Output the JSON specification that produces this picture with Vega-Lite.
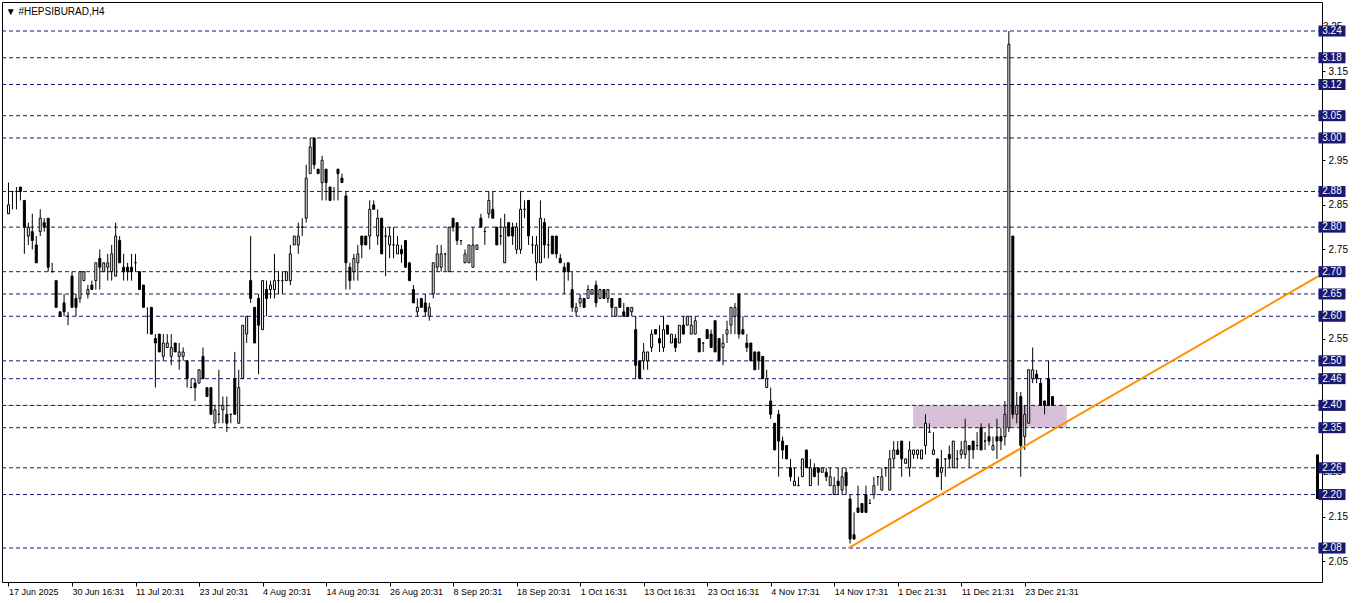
{
"$schema":"https://vega.github.io/schema/vega-lite/v6.json",
"width":1320,"height":580,
"autosize":{"type":"none"},
"padding":{"left":2,"top":2,"right":40,"bottom":21},
"background":"white",
"config":{"view":{"stroke":"black","strokeWidth":1},"font":"Liberation Sans"},
"datasets":{
"candles":[
{"i":0,"o":2.83,"h":2.90,"l":2.83,"c":2.85},{"i":1,"o":2.88,"h":2.88,"l":2.84,"c":2.88},{"i":2,"o":2.88,"h":2.89,"l":2.84,"c":2.88},{"i":3,"o":2.89,"h":2.89,"l":2.86,"c":2.88},{"i":4,"o":2.86,"h":2.86,"l":2.74,"c":2.80},{"i":5,"o":2.78,"h":2.81,"l":2.76,"c":2.80},{"i":6,"o":2.79,"h":2.83,"l":2.75,"c":2.77},{"i":7,"o":2.76,"h":2.78,"l":2.72,"c":2.72},{"i":8,"o":2.79,"h":2.84,"l":2.78,"c":2.82},{"i":9,"o":2.81,"h":2.82,"l":2.79,"c":2.80},
{"i":10,"o":2.82,"h":2.82,"l":2.70,"c":2.71},{"i":11,"o":2.70,"h":2.72,"l":2.70,"c":2.70},{"i":12,"o":2.68,"h":2.68,"l":2.62,"c":2.62},{"i":13,"o":2.61,"h":2.61,"l":2.60,"c":2.60},{"i":14,"o":2.63,"h":2.65,"l":2.60,"c":2.61},{"i":15,"o":2.60,"h":2.61,"l":2.58,"c":2.60},{"i":16,"o":2.69,"h":2.70,"l":2.62,"c":2.62},{"i":17,"o":2.64,"h":2.65,"l":2.60,"c":2.62},{"i":18,"o":2.64,"h":2.70,"l":2.63,"c":2.70},{"i":19,"o":2.68,"h":2.70,"l":2.68,"c":2.70},
{"i":20,"o":2.65,"h":2.67,"l":2.64,"c":2.66},{"i":21,"o":2.67,"h":2.68,"l":2.66,"c":2.66},{"i":22,"o":2.68,"h":2.72,"l":2.66,"c":2.72},{"i":23,"o":2.73,"h":2.75,"l":2.66,"c":2.71},{"i":24,"o":2.70,"h":2.72,"l":2.70,"c":2.72},{"i":25,"o":2.71,"h":2.74,"l":2.68,"c":2.72},{"i":26,"o":2.70,"h":2.76,"l":2.68,"c":2.74},{"i":27,"o":2.69,"h":2.81,"l":2.69,"c":2.78},{"i":28,"o":2.77,"h":2.78,"l":2.72,"c":2.72},{"i":29,"o":2.71,"h":2.74,"l":2.68,"c":2.70},
{"i":30,"o":2.71,"h":2.72,"l":2.68,"c":2.70},{"i":31,"o":2.71,"h":2.74,"l":2.68,"c":2.70},{"i":32,"o":2.72,"h":2.74,"l":2.70,"c":2.72},{"i":33,"o":2.70,"h":2.70,"l":2.66,"c":2.66},{"i":34,"o":2.67,"h":2.67,"l":2.62,"c":2.62},{"i":35,"o":2.60,"h":2.62,"l":2.56,"c":2.60},{"i":36,"o":2.62,"h":2.62,"l":2.56,"c":2.56},{"i":37,"o":2.55,"h":2.56,"l":2.44,"c":2.54},{"i":38,"o":2.56,"h":2.56,"l":2.52,"c":2.52},{"i":39,"o":2.51,"h":2.56,"l":2.50,"c":2.54},
{"i":40,"o":2.53,"h":2.56,"l":2.53,"c":2.54},{"i":41,"o":2.51,"h":2.56,"l":2.49,"c":2.53},{"i":42,"o":2.54,"h":2.54,"l":2.52,"c":2.52},{"i":43,"o":2.51,"h":2.54,"l":2.48,"c":2.52},{"i":44,"o":2.51,"h":2.53,"l":2.50,"c":2.52},{"i":45,"o":2.50,"h":2.50,"l":2.44,"c":2.46},{"i":46,"o":2.44,"h":2.46,"l":2.44,"c":2.44},{"i":47,"o":2.45,"h":2.46,"l":2.41,"c":2.44},{"i":48,"o":2.45,"h":2.48,"l":2.45,"c":2.48},{"i":49,"o":2.51,"h":2.53,"l":2.46,"c":2.46},
{"i":50,"o":2.44,"h":2.44,"l":2.42,"c":2.42},{"i":51,"o":2.44,"h":2.44,"l":2.38,"c":2.38},{"i":52,"o":2.36,"h":2.40,"l":2.35,"c":2.39},{"i":53,"o":2.38,"h":2.48,"l":2.36,"c":2.38},{"i":54,"o":2.39,"h":2.42,"l":2.36,"c":2.40},{"i":55,"o":2.38,"h":2.42,"l":2.34,"c":2.36},{"i":56,"o":2.38,"h":2.38,"l":2.36,"c":2.38},{"i":57,"o":2.46,"h":2.52,"l":2.38,"c":2.38},{"i":58,"o":2.36,"h":2.48,"l":2.36,"c":2.44},{"i":59,"o":2.46,"h":2.58,"l":2.46,"c":2.58},
{"i":60,"o":2.56,"h":2.60,"l":2.54,"c":2.60},{"i":61,"o":2.68,"h":2.78,"l":2.63,"c":2.64},{"i":62,"o":2.62,"h":2.62,"l":2.54,"c":2.54},{"i":63,"o":2.64,"h":2.65,"l":2.47,"c":2.58},{"i":64,"o":2.57,"h":2.68,"l":2.57,"c":2.68},{"i":65,"o":2.66,"h":2.68,"l":2.60,"c":2.64},{"i":66,"o":2.66,"h":2.68,"l":2.64,"c":2.67},{"i":67,"o":2.66,"h":2.74,"l":2.64,"c":2.68},{"i":68,"o":2.68,"h":2.70,"l":2.65,"c":2.68},{"i":69,"o":2.68,"h":2.70,"l":2.65,"c":2.68},
{"i":70,"o":2.68,"h":2.70,"l":2.68,"c":2.70},{"i":71,"o":2.68,"h":2.76,"l":2.67,"c":2.74},{"i":72,"o":2.76,"h":2.78,"l":2.76,"c":2.78},{"i":73,"o":2.76,"h":2.81,"l":2.74,"c":2.78},{"i":74,"o":2.80,"h":2.82,"l":2.78,"c":2.80},{"i":75,"o":2.82,"h":2.94,"l":2.81,"c":2.91},{"i":76,"o":2.92,"h":3.00,"l":2.92,"c":2.98},{"i":77,"o":3.00,"h":3.00,"l":2.93,"c":2.94},{"i":78,"o":2.93,"h":2.93,"l":2.92,"c":2.92},{"i":79,"o":2.90,"h":2.96,"l":2.86,"c":2.95},
{"i":80,"o":2.93,"h":2.93,"l":2.86,"c":2.90},{"i":81,"o":2.89,"h":2.89,"l":2.86,"c":2.86},{"i":82,"o":2.88,"h":2.89,"l":2.86,"c":2.88},{"i":83,"o":2.93,"h":2.93,"l":2.86,"c":2.92},{"i":84,"o":2.91,"h":2.92,"l":2.90,"c":2.90},{"i":85,"o":2.87,"h":2.88,"l":2.66,"c":2.72},{"i":86,"o":2.71,"h":2.72,"l":2.66,"c":2.68},{"i":87,"o":2.70,"h":2.74,"l":2.68,"c":2.73},{"i":88,"o":2.72,"h":2.76,"l":2.68,"c":2.74},{"i":89,"o":2.78,"h":2.78,"l":2.73,"c":2.76},
{"i":90,"o":2.78,"h":2.78,"l":2.76,"c":2.76},{"i":91,"o":2.78,"h":2.86,"l":2.75,"c":2.84},{"i":92,"o":2.85,"h":2.86,"l":2.84,"c":2.84},{"i":93,"o":2.78,"h":2.84,"l":2.76,"c":2.82},{"i":94,"o":2.82,"h":2.82,"l":2.74,"c":2.74},{"i":95,"o":2.78,"h":2.80,"l":2.69,"c":2.78},{"i":96,"o":2.76,"h":2.80,"l":2.73,"c":2.78},{"i":97,"o":2.76,"h":2.80,"l":2.73,"c":2.76},{"i":98,"o":2.74,"h":2.78,"l":2.74,"c":2.76},{"i":99,"o":2.75,"h":2.76,"l":2.72,"c":2.74},
{"i":100,"o":2.77,"h":2.77,"l":2.71,"c":2.71},{"i":101,"o":2.72,"h":2.72,"l":2.68,"c":2.68},{"i":102,"o":2.66,"h":2.67,"l":2.63,"c":2.63},{"i":103,"o":2.61,"h":2.64,"l":2.60,"c":2.62},{"i":104,"o":2.64,"h":2.64,"l":2.62,"c":2.62},{"i":105,"o":2.63,"h":2.65,"l":2.60,"c":2.61},{"i":106,"o":2.60,"h":2.63,"l":2.59,"c":2.62},{"i":107,"o":2.65,"h":2.72,"l":2.64,"c":2.72},{"i":108,"o":2.71,"h":2.76,"l":2.70,"c":2.74},{"i":109,"o":2.71,"h":2.76,"l":2.70,"c":2.74},
{"i":110,"o":2.74,"h":2.74,"l":2.70,"c":2.74},{"i":111,"o":2.70,"h":2.80,"l":2.70,"c":2.80},{"i":112,"o":2.82,"h":2.82,"l":2.79,"c":2.80},{"i":113,"o":2.81,"h":2.81,"l":2.76,"c":2.77},{"i":114,"o":2.77,"h":2.77,"l":2.76,"c":2.77},{"i":115,"o":2.72,"h":2.75,"l":2.72,"c":2.74},{"i":116,"o":2.72,"h":2.76,"l":2.72,"c":2.76},{"i":117,"o":2.71,"h":2.80,"l":2.71,"c":2.76},{"i":118,"o":2.75,"h":2.76,"l":2.75,"c":2.76},{"i":119,"o":2.82,"h":2.83,"l":2.80,"c":2.80},
{"i":120,"o":2.79,"h":2.80,"l":2.76,"c":2.79},{"i":121,"o":2.83,"h":2.88,"l":2.82,"c":2.86},{"i":122,"o":2.84,"h":2.88,"l":2.82,"c":2.82},{"i":123,"o":2.80,"h":2.80,"l":2.76,"c":2.76},{"i":124,"o":2.78,"h":2.82,"l":2.76,"c":2.78},{"i":125,"o":2.72,"h":2.83,"l":2.72,"c":2.80},{"i":126,"o":2.81,"h":2.81,"l":2.78,"c":2.78},{"i":127,"o":2.80,"h":2.81,"l":2.76,"c":2.78},{"i":128,"o":2.75,"h":2.81,"l":2.74,"c":2.80},{"i":129,"o":2.75,"h":2.88,"l":2.74,"c":2.84},
{"i":130,"o":2.84,"h":2.86,"l":2.82,"c":2.84},{"i":131,"o":2.86,"h":2.86,"l":2.76,"c":2.78},{"i":132,"o":2.76,"h":2.78,"l":2.74,"c":2.76},{"i":133,"o":2.72,"h":2.78,"l":2.68,"c":2.76},{"i":134,"o":2.72,"h":2.86,"l":2.72,"c":2.82},{"i":135,"o":2.81,"h":2.82,"l":2.73,"c":2.76},{"i":136,"o":2.76,"h":2.80,"l":2.73,"c":2.76},{"i":137,"o":2.78,"h":2.78,"l":2.74,"c":2.74},{"i":138,"o":2.78,"h":2.78,"l":2.73,"c":2.74},{"i":139,"o":2.73,"h":2.74,"l":2.72,"c":2.72},
{"i":140,"o":2.71,"h":2.72,"l":2.65,"c":2.70},{"i":141,"o":2.72,"h":2.72,"l":2.68,"c":2.70},{"i":142,"o":2.66,"h":2.70,"l":2.61,"c":2.62},{"i":143,"o":2.61,"h":2.63,"l":2.60,"c":2.62},{"i":144,"o":2.63,"h":2.65,"l":2.62,"c":2.64},{"i":145,"o":2.64,"h":2.64,"l":2.62,"c":2.62},{"i":146,"o":2.64,"h":2.67,"l":2.64,"c":2.66},{"i":147,"o":2.65,"h":2.66,"l":2.65,"c":2.66},{"i":148,"o":2.67,"h":2.68,"l":2.62,"c":2.63},{"i":149,"o":2.64,"h":2.66,"l":2.64,"c":2.66},
{"i":150,"o":2.66,"h":2.66,"l":2.64,"c":2.64},{"i":151,"o":2.64,"h":2.66,"l":2.63,"c":2.66},{"i":152,"o":2.64,"h":2.64,"l":2.60,"c":2.62},{"i":153,"o":2.60,"h":2.62,"l":2.60,"c":2.62},{"i":154,"o":2.64,"h":2.64,"l":2.62,"c":2.62},{"i":155,"o":2.61,"h":2.63,"l":2.60,"c":2.60},{"i":156,"o":2.62,"h":2.62,"l":2.60,"c":2.60},{"i":157,"o":2.61,"h":2.62,"l":2.60,"c":2.62},{"i":158,"o":2.57,"h":2.60,"l":2.46,"c":2.49},{"i":159,"o":2.50,"h":2.50,"l":2.46,"c":2.46},
{"i":160,"o":2.50,"h":2.54,"l":2.48,"c":2.52},{"i":161,"o":2.50,"h":2.52,"l":2.48,"c":2.52},{"i":162,"o":2.53,"h":2.57,"l":2.52,"c":2.56},{"i":163,"o":2.57,"h":2.57,"l":2.56,"c":2.56},{"i":164,"o":2.55,"h":2.58,"l":2.52,"c":2.54},{"i":165,"o":2.53,"h":2.60,"l":2.52,"c":2.57},{"i":166,"o":2.58,"h":2.58,"l":2.56,"c":2.56},{"i":167,"o":2.54,"h":2.56,"l":2.54,"c":2.56},{"i":168,"o":2.55,"h":2.56,"l":2.52,"c":2.53},{"i":169,"o":2.54,"h":2.58,"l":2.54,"c":2.58},
{"i":170,"o":2.58,"h":2.60,"l":2.56,"c":2.56},{"i":171,"o":2.58,"h":2.60,"l":2.58,"c":2.60},{"i":172,"o":2.56,"h":2.60,"l":2.56,"c":2.58},{"i":173,"o":2.56,"h":2.60,"l":2.56,"c":2.59},{"i":174,"o":2.55,"h":2.55,"l":2.52,"c":2.52},{"i":175,"o":2.54,"h":2.54,"l":2.52,"c":2.54},{"i":176,"o":2.57,"h":2.57,"l":2.55,"c":2.55},{"i":177,"o":2.56,"h":2.57,"l":2.53,"c":2.53},{"i":178,"o":2.59,"h":2.59,"l":2.52,"c":2.52},{"i":179,"o":2.55,"h":2.55,"l":2.50,"c":2.50},
{"i":180,"o":2.53,"h":2.56,"l":2.49,"c":2.54},{"i":181,"o":2.56,"h":2.59,"l":2.54,"c":2.57},{"i":182,"o":2.58,"h":2.62,"l":2.56,"c":2.62},{"i":183,"o":2.60,"h":2.63,"l":2.56,"c":2.62},{"i":184,"o":2.65,"h":2.65,"l":2.55,"c":2.56},{"i":185,"o":2.57,"h":2.60,"l":2.56,"c":2.56},{"i":186,"o":2.54,"h":2.56,"l":2.52,"c":2.53},{"i":187,"o":2.54,"h":2.54,"l":2.50,"c":2.50},{"i":188,"o":2.52,"h":2.52,"l":2.48,"c":2.48},{"i":189,"o":2.52,"h":2.52,"l":2.48,"c":2.50},
{"i":190,"o":2.51,"h":2.51,"l":2.46,"c":2.46},{"i":191,"o":2.44,"h":2.48,"l":2.44,"c":2.46},{"i":192,"o":2.41,"h":2.44,"l":2.37,"c":2.38},{"i":193,"o":2.36,"h":2.36,"l":2.30,"c":2.30},{"i":194,"o":2.38,"h":2.39,"l":2.24,"c":2.32},{"i":195,"o":2.32,"h":2.33,"l":2.28,"c":2.30},{"i":196,"o":2.31,"h":2.31,"l":2.28,"c":2.28},{"i":197,"o":2.26,"h":2.28,"l":2.23,"c":2.24},{"i":198,"o":2.22,"h":2.26,"l":2.22,"c":2.23},{"i":199,"o":2.22,"h":2.24,"l":2.22,"c":2.22},
{"i":200,"o":2.24,"h":2.28,"l":2.24,"c":2.28},{"i":201,"o":2.30,"h":2.30,"l":2.26,"c":2.26},{"i":202,"o":2.22,"h":2.28,"l":2.22,"c":2.26},{"i":203,"o":2.26,"h":2.27,"l":2.24,"c":2.24},{"i":204,"o":2.26,"h":2.26,"l":2.22,"c":2.25},{"i":205,"o":2.25,"h":2.26,"l":2.25,"c":2.26},{"i":206,"o":2.25,"h":2.26,"l":2.23,"c":2.24},{"i":207,"o":2.22,"h":2.26,"l":2.22,"c":2.24},{"i":208,"o":2.20,"h":2.24,"l":2.20,"c":2.22},{"i":209,"o":2.23,"h":2.26,"l":2.20,"c":2.22},
{"i":210,"o":2.21,"h":2.26,"l":2.20,"c":2.24},{"i":211,"o":2.25,"h":2.26,"l":2.20,"c":2.22},{"i":212,"o":2.19,"h":2.20,"l":2.09,"c":2.10},{"i":213,"o":2.11,"h":2.16,"l":2.10,"c":2.10},{"i":214,"o":2.17,"h":2.22,"l":2.16,"c":2.16},{"i":215,"o":2.18,"h":2.18,"l":2.16,"c":2.16},{"i":216,"o":2.20,"h":2.22,"l":2.16,"c":2.16},{"i":217,"o":2.18,"h":2.19,"l":2.18,"c":2.18},{"i":218,"o":2.20,"h":2.24,"l":2.19,"c":2.22},{"i":219,"o":2.24,"h":2.24,"l":2.22,"c":2.24},
{"i":220,"o":2.21,"h":2.26,"l":2.21,"c":2.24},{"i":221,"o":2.26,"h":2.26,"l":2.24,"c":2.26},{"i":222,"o":2.21,"h":2.30,"l":2.21,"c":2.28},{"i":223,"o":2.28,"h":2.32,"l":2.26,"c":2.30},{"i":224,"o":2.30,"h":2.32,"l":2.29,"c":2.29},{"i":225,"o":2.32,"h":2.32,"l":2.24,"c":2.28},{"i":226,"o":2.27,"h":2.28,"l":2.27,"c":2.28},{"i":227,"o":2.26,"h":2.32,"l":2.24,"c":2.30},{"i":228,"o":2.29,"h":2.30,"l":2.28,"c":2.30},{"i":229,"o":2.29,"h":2.30,"l":2.28,"c":2.30},
{"i":230,"o":2.28,"h":2.30,"l":2.28,"c":2.30},{"i":231,"o":2.31,"h":2.38,"l":2.29,"c":2.36},{"i":232,"o":2.34,"h":2.36,"l":2.34,"c":2.34},{"i":233,"o":2.29,"h":2.34,"l":2.29,"c":2.30},{"i":234,"o":2.28,"h":2.28,"l":2.24,"c":2.24},{"i":235,"o":2.25,"h":2.30,"l":2.21,"c":2.26},{"i":236,"o":2.28,"h":2.28,"l":2.24,"c":2.28},{"i":237,"o":2.29,"h":2.31,"l":2.26,"c":2.28},{"i":238,"o":2.26,"h":2.32,"l":2.26,"c":2.32},{"i":239,"o":2.28,"h":2.30,"l":2.26,"c":2.28},
{"i":240,"o":2.29,"h":2.32,"l":2.28,"c":2.30},{"i":241,"o":2.29,"h":2.37,"l":2.28,"c":2.32},{"i":242,"o":2.31,"h":2.31,"l":2.26,"c":2.30},{"i":243,"o":2.32,"h":2.32,"l":2.28,"c":2.30},{"i":244,"o":2.31,"h":2.34,"l":2.30,"c":2.31},{"i":245,"o":2.35,"h":2.36,"l":2.30,"c":2.30},{"i":246,"o":2.32,"h":2.34,"l":2.30,"c":2.32},{"i":247,"o":2.33,"h":2.36,"l":2.31,"c":2.32},{"i":248,"o":2.30,"h":2.33,"l":2.30,"c":2.31},{"i":249,"o":2.33,"h":2.37,"l":2.28,"c":2.32},
{"i":250,"o":2.33,"h":2.35,"l":2.30,"c":2.32},{"i":251,"o":2.33,"h":2.41,"l":2.31,"c":2.38},{"i":252,"o":2.35,"h":3.24,"l":2.34,"c":3.21},{"i":253,"o":2.78,"h":2.78,"l":2.37,"c":2.38},{"i":254,"o":2.38,"h":2.43,"l":2.36,"c":2.40},{"i":255,"o":2.42,"h":2.43,"l":2.24,"c":2.31},{"i":256,"o":2.33,"h":2.40,"l":2.30,"c":2.38},{"i":257,"o":2.36,"h":2.48,"l":2.36,"c":2.48},{"i":258,"o":2.46,"h":2.53,"l":2.45,"c":2.48},{"i":259,"o":2.47,"h":2.48,"l":2.45,"c":2.46},
{"i":260,"o":2.45,"h":2.46,"l":2.40,"c":2.40},{"i":261,"o":2.41,"h":2.41,"l":2.38,"c":2.40},{"i":262,"o":2.46,"h":2.50,"l":2.40,"c":2.40},{"i":263,"o":2.42,"h":2.42,"l":2.40,"c":2.40}
],
"levels":[{"p":3.24},{"p":3.18},{"p":3.12},{"p":3.05},{"p":3.00},{"p":2.88},{"p":2.80},{"p":2.70},{"p":2.65},{"p":2.60},{"p":2.50},{"p":2.46},{"p":2.40},{"p":2.35},{"p":2.26},{"p":2.20},{"p":2.08}],
"hidden":[{"p":3.25},{"p":2.25}],
"zone":[{"x1":227.9,"x2":266.6,"y1":2.35,"y2":2.40}],
"trend":[{"i":211.6,"p":2.08},{"i":330,"p":2.69}],
"bid":[{"p":2.40}],
"edge":[{"i":329.75,"lo":2.19,"hi":2.29}],
"caption":[{"i":-0.7,"p":3.277,"t":"▼ #HEPSIBURAD,H4"}]
},
"layer":[
{"data":{"name":"zone"},"mark":{"type":"rect","color":"#D8BFD8","clip":true},
 "encoding":{"x":{"field":"x1","type":"quantitative","title":null,"scale":{"domain":[-0.375,329.625],"nice":false,"zero":false}},
  "x2":{"field":"x2"},
  "y":{"field":"y1","type":"quantitative","title":null,"scale":{"domain":[2.0038,3.3051],"nice":false,"zero":false}},
  "y2":{"field":"y2"}}},
{"data":{"name":"bid"},"mark":{"type":"rule","color":"#c0c0c0","strokeWidth":1},
 "encoding":{"y":{"field":"p","type":"quantitative","title":null}}},
{"data":{"name":"levels"},"mark":{"type":"rule","color":"#191970","strokeWidth":1,"strokeDash":[4,3]},
 "encoding":{"y":{"field":"p","type":"quantitative","title":null}}},
{"data":{"name":"candles"},"mark":{"type":"rule","color":"black","strokeWidth":1},
 "encoding":{"x":{"field":"i","type":"quantitative","title":null,"axis":{"orient":"bottom","zindex":0,"values":[0,16,32,48,64,80,96,112,128,144,160,176,192,208,224,240,256],"labelExpr":"['17 Jun 2025','30 Jun 16:31','11 Jul 20:31','23 Jul 20:31','4 Aug 20:31','14 Aug 20:31','26 Aug 20:31','8 Sep 20:31','18 Sep 20:31','1 Oct 16:31','13 Oct 16:31','23 Oct 16:31','4 Nov 17:31','14 Nov 17:31','1 Dec 21:31','11 Dec 21:31','23 Dec 21:31'][round(datum.value/16)]","labelAlign":"left","labelDx":1,"labelFontSize":9,"labelFont":"Liberation Sans","labelColor":"black","labelPadding":1,"labelOverlap":false,"labelFlush":false,"labelBound":false,"tickSize":4,"tickColor":"black","domain":false,"grid":false,"title":null}},
  "y":{"field":"l","type":"quantitative","title":null,"axis":{"orient":"right","zindex":0,"values":[2.05,2.15,2.55,2.75,2.85,2.95,3.15],"format":".2f","labelFontSize":10,"labelFont":"Liberation Sans","labelColor":"black","labelPadding":3,"labelAlign":"left","labelBaseline":"middle","labelOverlap":false,"labelFlush":false,"labelBound":false,"tickSize":3,"tickColor":"black","domain":false,"grid":false,"title":null}},
  "y2":{"field":"h"}}},
{"data":{"name":"candles"},"mark":{"type":"bar","orient":"vertical","width":2,"stroke":"black","strokeWidth":1},
 "encoding":{"x":{"field":"i","type":"quantitative","title":null},"y":{"field":"o","type":"quantitative","title":null},"y2":{"field":"c"},
  "fill":{"condition":{"test":"datum.c >= datum.o","value":"white"},"value":"black"}}},
{"data":{"name":"trend"},"mark":{"type":"line","color":"#ff9000","strokeWidth":2,"clip":true},
 "encoding":{"x":{"field":"i","type":"quantitative","title":null},"y":{"field":"p","type":"quantitative","title":null}}},
{"data":{"name":"edge"},"mark":{"type":"rule","color":"black","strokeWidth":3},
 "encoding":{"x":{"field":"i","type":"quantitative","title":null},"y":{"field":"lo","type":"quantitative","title":null},"y2":{"field":"hi"}}},
{"data":{"name":"caption"},"mark":{"type":"text","color":"black","fontSize":10,"font":"Liberation Sans","align":"left","baseline":"alphabetic"},
 "encoding":{"x":{"field":"i","type":"quantitative","title":null},"y":{"field":"p","type":"quantitative","title":null},"text":{"field":"t"}}},
{"data":{"name":"hidden"},"mark":{"type":"text","color":"black","fontSize":10,"font":"Liberation Sans","align":"left","baseline":"middle"},
 "encoding":{"x":{"datum":331.125,"type":"quantitative"},"y":{"field":"p","type":"quantitative","title":null},"text":{"field":"p","type":"quantitative","format":".2f"}}},
{"data":{"name":"levels"},"mark":{"type":"point","shape":"M-1,-0.4074H1V0.4074H-1Z","size":729,"filled":true,"fill":"#191970","stroke":null,"opacity":1},
 "encoding":{"x":{"datum":333.4,"type":"quantitative"},"y":{"field":"p","type":"quantitative","title":null}}},
{"data":{"name":"levels"},"mark":{"type":"text","color":"white","fontSize":10,"font":"Liberation Sans","align":"center","baseline":"middle"},
 "encoding":{"x":{"datum":333.4,"type":"quantitative"},"y":{"field":"p","type":"quantitative","title":null},"text":{"field":"p","type":"quantitative","format":".2f"}}}
]
}
